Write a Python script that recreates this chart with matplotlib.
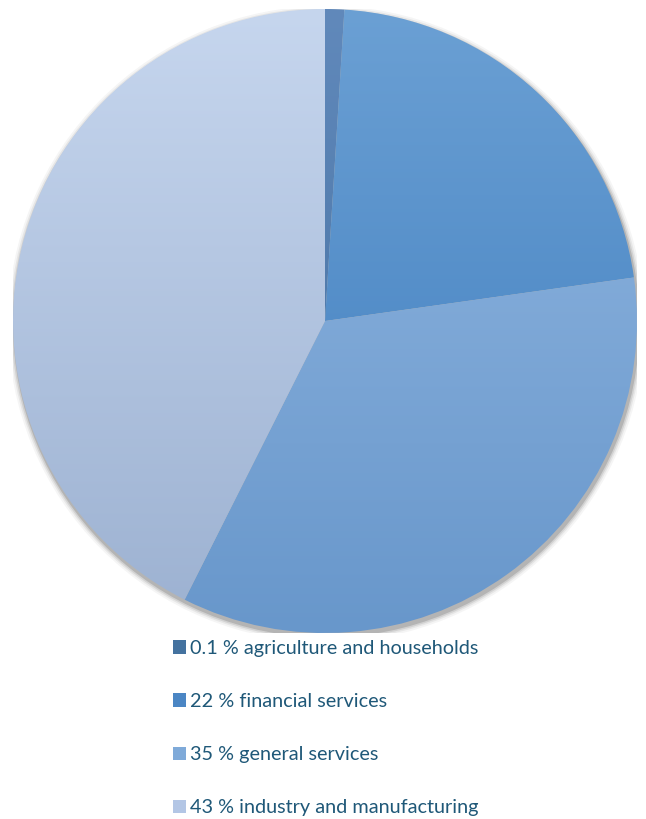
import numpy as np
import matplotlib
matplotlib.use("Agg")
import matplotlib.pyplot as plt
from matplotlib.patches import Patch, Circle
from matplotlib.colors import LinearSegmentedColormap

# Data
labels = ["0.1 % agriculture and households", "22 % financial services",
          "35 % general services", "43 % industry and manufacturing"]
values = [1, 22, 35, 43]  # visual slice sizes as drawn
top_colors = ["#6189bb", "#6ba0d4", "#93b8e2", "#c6d6ee"]
bottom_colors = ["#3f6c9c", "#3c7bbd", "#6897cb", "#9cb1d1"]
legend_colors = ["#44729f", "#4b86c4", "#7faad9", "#b3c6e5"]
text_color = "#1f5878"

plt.rcParams['font.family'] = ['Lato', 'DejaVu Sans']

fig = plt.figure(figsize=(6.46, 8.19), dpi=100)
ax = fig.add_axes([13/646, (819-633)/819, 624/646, 624/819])

# shadow
for r, a in [(1.02, 0.05), (1.014, 0.08), (1.009, 0.12), (1.004, 0.2)]:
    ax.add_patch(Circle((0.004, -0.01), r, facecolor="#404040", edgecolor="none", alpha=a, zorder=0))

wedges, _ = ax.pie(values, startangle=90, counterclock=False, radius=1,
                   wedgeprops=dict(facecolor="none", edgecolor="none"))

grad = np.linspace(0, 1, 256).reshape(-1, 1)
for w, ct, cb in zip(wedges, top_colors, bottom_colors):
    cmap = LinearSegmentedColormap.from_list("g", [ct, cb])
    im = ax.imshow(grad, cmap=cmap, extent=[-1, 1, -1, 1], origin="upper",
                   aspect="auto", zorder=1, interpolation="bilinear")
    im.set_clip_path(w)

ax.set_xlim(-1, 1)
ax.set_ylim(-1, 1)
ax.set_aspect("auto")
ax.axis("off")

handles = [Patch(facecolor=c, edgecolor="none") for c in legend_colors]
leg = fig.legend(handles, labels, loc="upper left", bbox_to_anchor=(173/646, 1 - 640/819),
                 frameon=False, fontsize=14.3, labelspacing=1.82, handlelength=0.66,
                 handleheight=0.66, handletextpad=0.2, borderaxespad=0, borderpad=0)
for t in leg.get_texts():
    t.set_color(text_color)

fig.savefig("out.png", dpi=100)
